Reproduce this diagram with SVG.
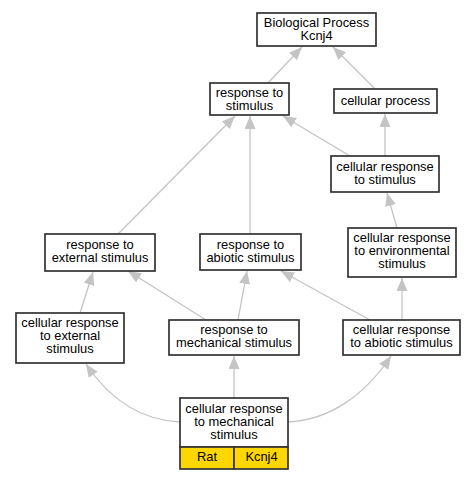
<svg xmlns="http://www.w3.org/2000/svg" width="475" height="480" viewBox="0 0 475 480">
<style>
.box{fill:#fff;stroke:#333;stroke-width:1.7}
.y{fill:#ffd700;stroke:#333;stroke-width:1.7}
text{font-family:"Liberation Sans",Arial,sans-serif;font-size:12.9px;fill:#000;text-anchor:middle}
.e{fill:none;stroke:#c4c4c4;stroke-width:1.3;marker-end:url(#ah)}
</style>
<defs>
<marker id="ah" markerUnits="userSpaceOnUse" markerWidth="14" markerHeight="12" refX="13" refY="5.5" orient="auto">
<path d="M0,0 L13,5.5 L0,11 z" fill="#c4c4c4"/>
</marker>
</defs>
<rect width="475" height="480" fill="#fff"/>
<g id="edges">
<path class="e" d="M268,83 L302,47"/>
<path class="e" d="M375,89 L333,47"/>
<path class="e" d="M118,234 L235,116"/>
<path class="e" d="M250,234 L250,116"/>
<path class="e" d="M350,156 L283,116"/>
<path class="e" d="M385,156 L385,114"/>
<path class="e" d="M397,228 L387,193"/>
<path class="e" d="M402,320 L402,278"/>
<path class="e" d="M370,320 L281,271"/>
<path class="e" d="M206,320 L128,271"/>
<path class="e" d="M238,320 L247,271"/>
<path class="e" d="M80,313 L93,272"/>
<path class="e" d="M180,422 C140,420 110,400 86,364"/>
<path class="e" d="M234,398 L234,356"/>
<path class="e" d="M288,422 C330,420 365,395 391,356"/>
</g>
<g id="n_bp">
<rect class="box" x="257" y="13" width="119" height="33"/>
<text x="316.5" y="26.5">Biological Process</text>
<text x="316.5" y="39.5">Kcnj4</text>
</g>
<g id="n_rs">
<rect class="box" x="210" y="83" width="79" height="32"/>
<text x="249.5" y="97">response to</text>
<text x="249.5" y="110">stimulus</text>
</g>
<g id="n_cp">
<rect class="box" x="334" y="89" width="103" height="24"/>
<text x="385.5" y="105">cellular process</text>
</g>
<g id="n_crs">
<rect class="box" x="331" y="156" width="108" height="36"/>
<text x="385" y="170.5">cellular response</text>
<text x="385" y="183.5">to stimulus</text>
</g>
<g id="n_res">
<rect class="box" x="45" y="234" width="110" height="37"/>
<text x="100" y="249">response to</text>
<text x="100" y="262">external stimulus</text>
</g>
<g id="n_ras">
<rect class="box" x="200" y="234" width="101" height="36"/>
<text x="250.5" y="249">response to</text>
<text x="250.5" y="262">abiotic stimulus</text>
</g>
<g id="n_cres">
<rect class="box" x="348" y="228" width="108" height="49"/>
<text x="402" y="242">cellular response</text>
<text x="402" y="255">to environmental</text>
<text x="402" y="268">stimulus</text>
</g>
<g id="n_cext">
<rect class="box" x="16" y="313" width="108" height="50"/>
<text x="70" y="327">cellular response</text>
<text x="70" y="340">to external</text>
<text x="70" y="353">stimulus</text>
</g>
<g id="n_rms">
<rect class="box" x="169" y="320" width="130" height="35"/>
<text x="234" y="334">response to</text>
<text x="234" y="347">mechanical stimulus</text>
</g>
<g id="n_cabs">
<rect class="box" x="343" y="320" width="117" height="35"/>
<text x="401.5" y="334">cellular response</text>
<text x="401.5" y="347">to abiotic stimulus</text>
</g>
<g id="n_cms">
<rect class="box" x="180" y="398" width="108" height="49"/>
<text x="234" y="412.5">cellular response</text>
<text x="234" y="425.5">to mechanical</text>
<text x="234" y="438.5">stimulus</text>
<rect class="y" x="180" y="447" width="54" height="22"/>
<rect class="y" x="234" y="447" width="54" height="22"/>
<text x="207" y="461">Rat</text>
<text x="261.5" y="461">Kcnj4</text>
</g>
</svg>
